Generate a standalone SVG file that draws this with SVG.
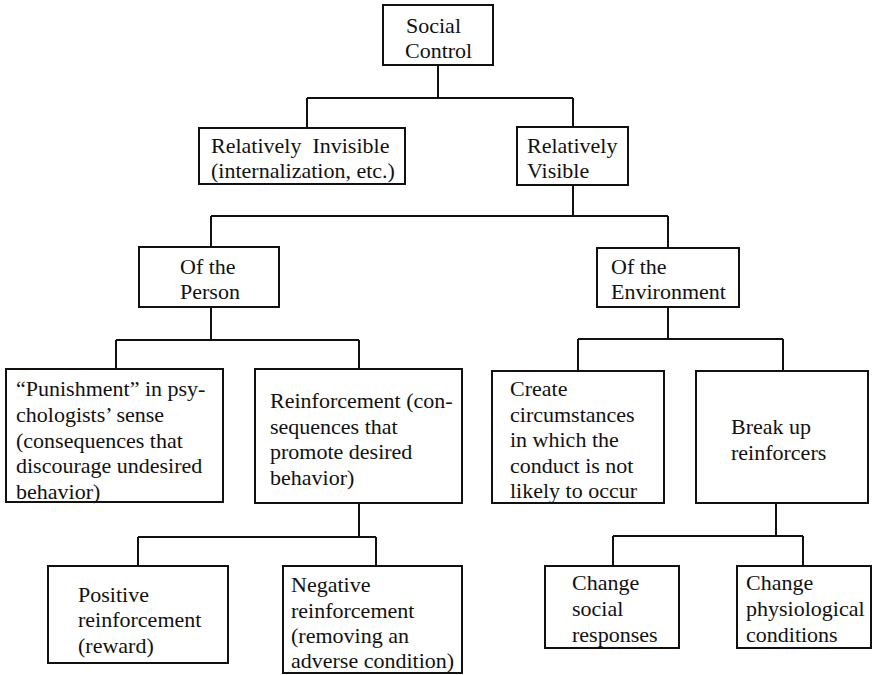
<svg xmlns="http://www.w3.org/2000/svg" width="873" height="675" viewBox="0 0 873 675">
  <style>
    .box { fill: #ffffff; stroke: #111111; stroke-width: 2; }
    .wire { fill: none; stroke: #111111; stroke-width: 2; }
    text { font-family: "Liberation Serif", "Times New Roman", serif; font-size: 22px; fill: #111111; }
  </style>
  <rect width="873" height="675" fill="#ffffff"/>

  <!-- tree connectors -->
  <g id="connectors">
    <path class="wire" d="M438 65 V98 M307 98 H573 M307 98 V128 M573 98 V127"/>
    <path class="wire" d="M573 185 V216 M211 216 H668 M211 216 V247 M668 216 V248"/>
    <path class="wire" d="M211 307 V340 M116 340 H359 M116 340 V369 M359 340 V369"/>
    <path class="wire" d="M668 307 V339 M578 339 H783 M578 339 V371 M783 339 V371"/>
    <path class="wire" d="M359 503 V537 M138 537 H376 M138 537 V566 M376 537 V566"/>
    <path class="wire" d="M776 503 V536 M613 536 H803 M613 536 V566 M803 536 V566"/>
  </g>

  <g id="social-control">
    <rect class="box" x="383" y="5" width="110" height="60"/>
    <text x="406" y="33">Social</text>
    <text x="405" y="58">Control</text>
  </g>

  <g id="relatively-invisible">
    <rect class="box" x="199" y="128" width="206" height="56"/>
    <text x="211" y="153" xml:space="preserve">Relatively  Invisible</text>
    <text x="211" y="178">(internalization, etc.)</text>
  </g>

  <g id="relatively-visible">
    <rect class="box" x="517" y="127" width="111" height="58"/>
    <text x="527" y="153">Relatively</text>
    <text x="527" y="178">Visible</text>
  </g>

  <g id="of-the-person">
    <rect class="box" x="139" y="247" width="140" height="60"/>
    <text x="180" y="274">Of the</text>
    <text x="180" y="299">Person</text>
  </g>

  <g id="of-the-environment">
    <rect class="box" x="597" y="248" width="142" height="59"/>
    <text x="611" y="274">Of the</text>
    <text x="611" y="299">Environment</text>
  </g>

  <g id="punishment">
    <rect class="box" x="6" y="369" width="217" height="133"/>
    <text x="16" y="396">“Punishment” in psy-</text>
    <text x="16" y="422">chologists’ sense</text>
    <text x="16" y="448">(consequences that</text>
    <text x="16" y="473">discourage undesired</text>
    <text x="16" y="499">behavior)</text>
  </g>

  <g id="reinforcement">
    <rect class="box" x="255" y="369" width="207" height="134"/>
    <text x="270" y="408">Reinforcement (con-</text>
    <text x="270" y="434">sequences that</text>
    <text x="270" y="459">promote desired</text>
    <text x="270" y="485">behavior)</text>
  </g>

  <g id="create-circumstances">
    <rect class="box" x="492" y="371" width="172" height="132"/>
    <text x="510" y="396">Create</text>
    <text x="510" y="422">circumstances</text>
    <text x="510" y="447">in which the</text>
    <text x="510" y="473">conduct is not</text>
    <text x="510" y="498">likely to occur</text>
  </g>

  <g id="break-up-reinforcers">
    <rect class="box" x="696" y="371" width="172" height="132"/>
    <text x="731" y="434">Break up</text>
    <text x="731" y="460">reinforcers</text>
  </g>

  <g id="positive-reinforcement">
    <rect class="box" x="48" y="566" width="180" height="97"/>
    <text x="78" y="602">Positive</text>
    <text x="78" y="627">reinforcement</text>
    <text x="78" y="653">(reward)</text>
  </g>

  <g id="negative-reinforcement">
    <rect class="box" x="283" y="566" width="179" height="107"/>
    <text x="291" y="592">Negative</text>
    <text x="291" y="618">reinforcement</text>
    <text x="291" y="643">(removing an</text>
    <text x="291" y="668">adverse condition)</text>
  </g>

  <g id="change-social-responses">
    <rect class="box" x="545" y="566" width="134" height="82"/>
    <text x="572" y="590">Change</text>
    <text x="572" y="616">social</text>
    <text x="572" y="642">responses</text>
  </g>

  <g id="change-physiological-conditions">
    <rect class="box" x="737" y="566" width="134" height="82"/>
    <text x="746" y="590">Change</text>
    <text x="746" y="616">physiological</text>
    <text x="746" y="642">conditions</text>
  </g>
</svg>
